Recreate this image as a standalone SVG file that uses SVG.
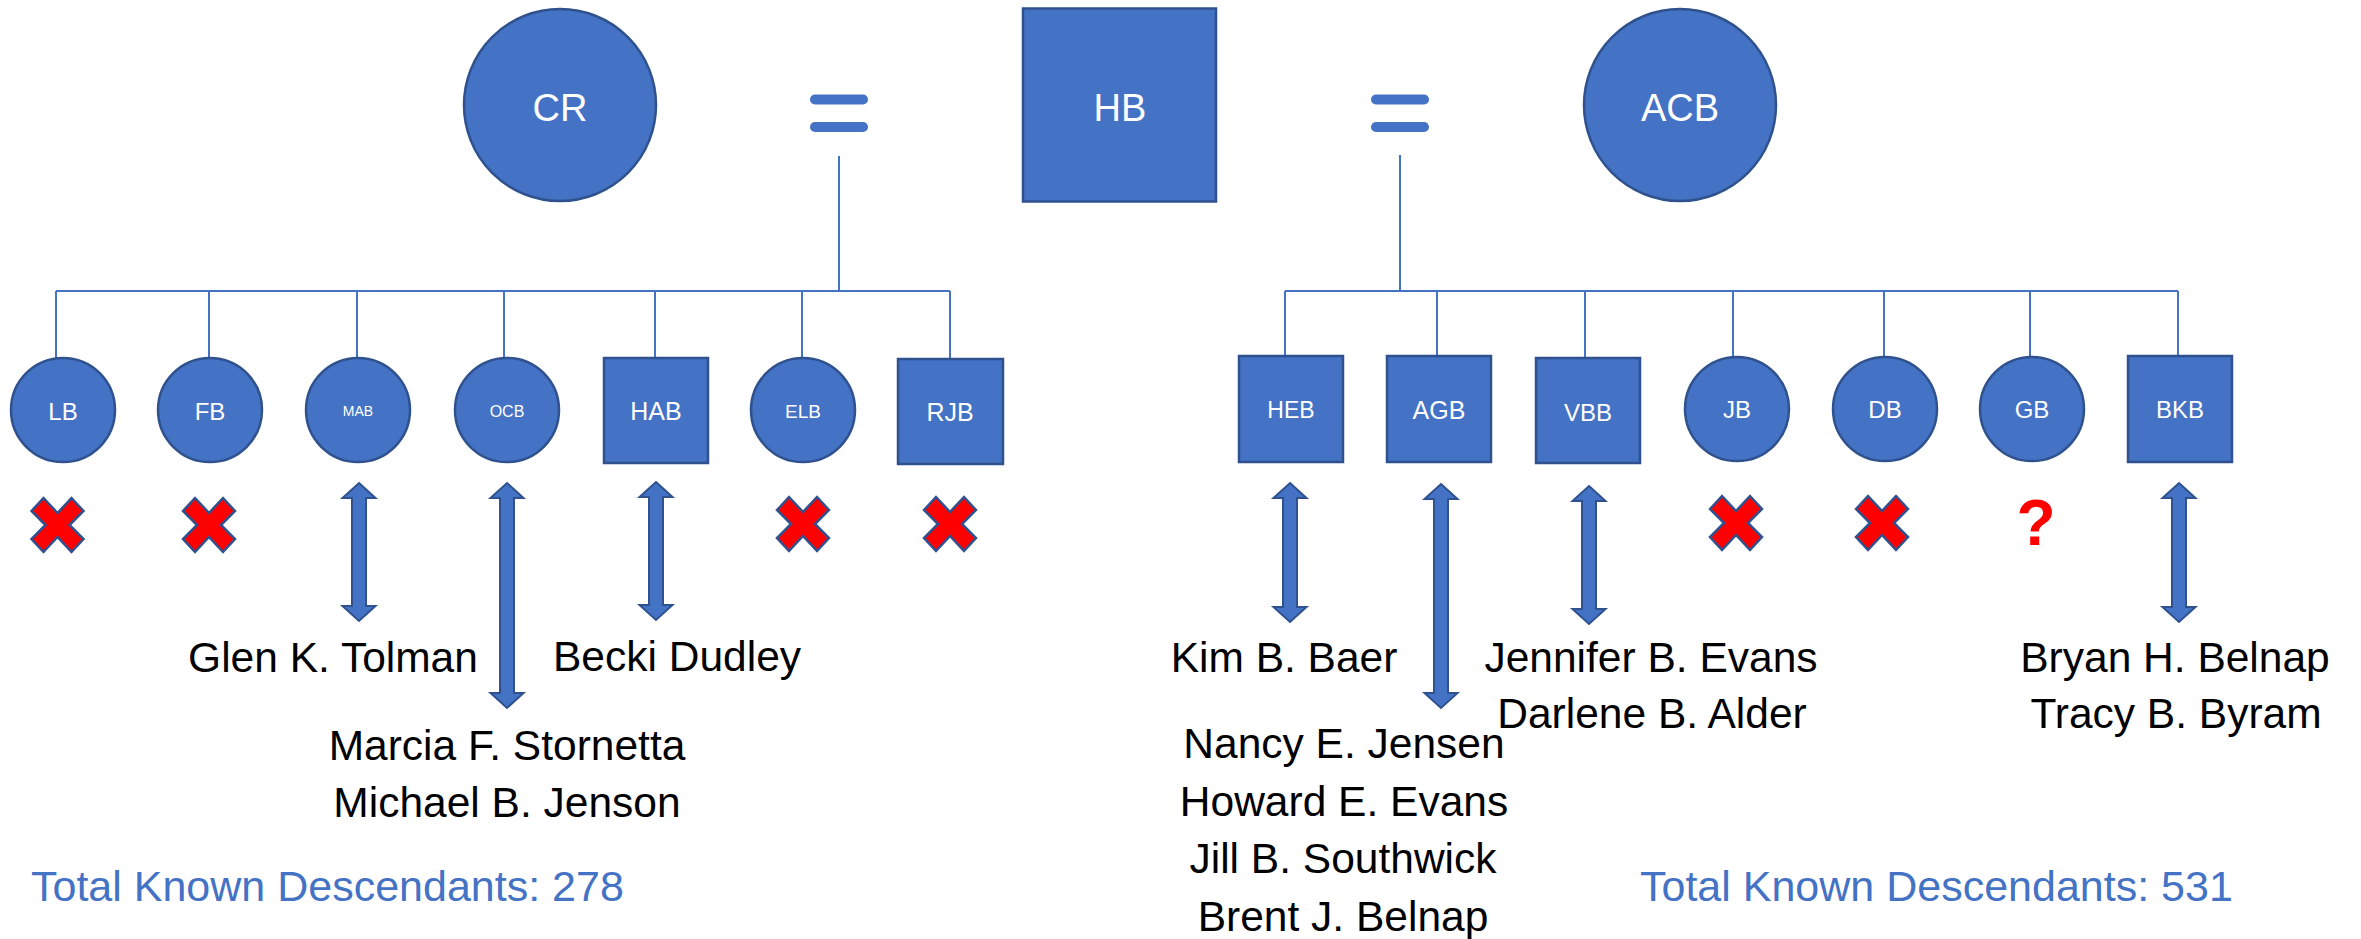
<svg xmlns="http://www.w3.org/2000/svg" width="2361" height="939" viewBox="0 0 2361 939">
<style>
.nd{fill:#4472C4;stroke:#2F528F;stroke-width:2.5}
.lt{fill:#fff;font-family:"Liberation Sans",Arial,sans-serif;text-anchor:middle}
.ln{fill:none;stroke:#4472C4;stroke-width:2}
.eq{fill:#4472C4}
.ar{fill:#4472C4;stroke:#2F528F;stroke-width:2}
.x{fill:#FF0000;stroke:#2F528F;stroke-width:2.5;stroke-linejoin:miter}
.nm{fill:#000;font-family:"Liberation Sans",Arial,sans-serif;font-size:42.5px;text-anchor:middle}
.tot{fill:#4472C4;font-family:"Liberation Sans",Arial,sans-serif;font-size:43px}
.q{fill:#FF0000;font-family:"Liberation Sans",Arial,sans-serif;font-weight:bold;font-size:64px;text-anchor:middle}
</style>
<defs>
<polygon id="xm" points="-26,-14 -14,-27 0,-12 14,-27 26,-14 12,0 26,14 14,27 0,12 -14,27 -26,14 -12,0"/>
</defs>
<rect width="2361" height="939" fill="#fff"/>
<g id="connectors">
<path class="ln" d="M839,156 V291 M56,291 H950 M56,291 V358 M209,291 V358 M357,291 V358 M504,291 V358 M655,291 V358 M802,291 V358 M950,291 V359"/>
<path class="ln" d="M1400,155 V291 M1285,291 H2178 M1285,291 V356 M1437,291 V356 M1585,291 V358 M1733,291 V357 M1884,291 V357 M2030,291 V357 M2178,291 V356"/>
</g>
<g id="eq-left"><rect class="eq" x="810" y="94.5" width="58" height="10" rx="5"/><rect class="eq" x="810" y="122" width="58" height="10" rx="5"/></g>
<g id="eq-right"><rect class="eq" x="1371" y="94.5" width="58" height="10" rx="5"/><rect class="eq" x="1371" y="122" width="58" height="10" rx="5"/></g>
<g id="CR"><circle class="nd" cx="560" cy="105" r="96"/><text class="lt" x="560" y="121" font-size="38">CR</text></g>
<g id="HB"><rect class="nd" x="1023" y="8.5" width="193" height="193"/><text class="lt" x="1120" y="121" font-size="38">HB</text></g>
<g id="ACB"><circle class="nd" cx="1680" cy="105" r="96"/><text class="lt" x="1680" y="121" font-size="38">ACB</text></g>
<g id="LB"><circle class="nd" cx="63" cy="410" r="52"/><text class="lt" x="63" y="420" font-size="24">LB</text></g>
<g id="FB"><circle class="nd" cx="210" cy="410" r="52"/><text class="lt" x="210" y="420" font-size="24">FB</text></g>
<g id="MAB"><circle class="nd" cx="358" cy="410" r="52"/><text class="lt" x="358" y="416" font-size="14">MAB</text></g>
<g id="OCB"><circle class="nd" cx="507" cy="410" r="52"/><text class="lt" x="507" y="417" font-size="16">OCB</text></g>
<g id="HAB"><rect class="nd" x="604" y="358" width="104" height="105"/><text class="lt" x="656" y="420" font-size="25">HAB</text></g>
<g id="ELB"><circle class="nd" cx="803" cy="410" r="52"/><text class="lt" x="803" y="418" font-size="19">ELB</text></g>
<g id="RJB"><rect class="nd" x="898" y="359" width="105" height="105"/><text class="lt" x="950" y="421" font-size="25">RJB</text></g>
<g id="HEB"><rect class="nd" x="1239" y="356" width="104" height="106"/><text class="lt" x="1291" y="418" font-size="23">HEB</text></g>
<g id="AGB"><rect class="nd" x="1387" y="356" width="104" height="106"/><text class="lt" x="1439" y="419" font-size="25">AGB</text></g>
<g id="VBB"><rect class="nd" x="1536" y="358" width="104" height="105"/><text class="lt" x="1588" y="421" font-size="24">VBB</text></g>
<g id="JB"><circle class="nd" cx="1737" cy="409" r="52"/><text class="lt" x="1737" y="418" font-size="24">JB</text></g>
<g id="DB"><circle class="nd" cx="1885" cy="409" r="52"/><text class="lt" x="1885" y="418" font-size="24">DB</text></g>
<g id="GB"><circle class="nd" cx="2032" cy="409" r="52"/><text class="lt" x="2032" y="418" font-size="24">GB</text></g>
<g id="BKB"><rect class="nd" x="2128" y="356" width="104" height="106"/><text class="lt" x="2180" y="418" font-size="24">BKB</text></g>
<g id="marks">
<use href="#xm" class="x" x="57.5" y="525"/>
<use href="#xm" class="x" x="209" y="525"/>
<use href="#xm" class="x" x="803" y="524"/>
<use href="#xm" class="x" x="950" y="524"/>
<use href="#xm" class="x" x="1736" y="523"/>
<use href="#xm" class="x" x="1882" y="523"/>
<text class="q" x="2036" y="545">?</text>
</g>
<g id="arrows">
<path class="ar" d="M359,483 L375.5,498 L366,498 L366,606 L375.5,606 L359,621 L342.5,606 L352,606 L352,498 L342.5,498 Z"/>
<path class="ar" d="M507,483 L523.5,498 L514,498 L514,693 L523.5,693 L507,708 L490.5,693 L500,693 L500,498 L490.5,498 Z"/>
<path class="ar" d="M656,482 L672.5,497 L663,497 L663,605 L672.5,605 L656,620 L639.5,605 L649,605 L649,497 L639.5,497 Z"/>
<path class="ar" d="M1290,483 L1306.5,498 L1297,498 L1297,607 L1306.5,607 L1290,622 L1273.5,607 L1283,607 L1283,498 L1273.5,498 Z"/>
<path class="ar" d="M1441,484 L1457.5,499 L1448,499 L1448,693 L1457.5,693 L1441,708 L1424.5,693 L1434,693 L1434,499 L1424.5,499 Z"/>
<path class="ar" d="M1589,486 L1605.5,501 L1596,501 L1596,609 L1605.5,609 L1589,624 L1572.5,609 L1582,609 L1582,501 L1572.5,501 Z"/>
<path class="ar" d="M2179,483 L2195.5,498 L2186,498 L2186,607 L2195.5,607 L2179,622 L2162.5,607 L2172,607 L2172,498 L2162.5,498 Z"/>
</g>
<g id="names">
<text class="nm" x="333" y="672">Glen K. Tolman</text>
<text class="nm" x="677" y="671">Becki Dudley</text>
<text class="nm" x="507" y="760">Marcia F. Stornetta</text>
<text class="nm" x="507" y="817">Michael B. Jenson</text>
<text class="nm" x="1284" y="672">Kim B. Baer</text>
<text class="nm" x="1344" y="758">Nancy E. Jensen</text>
<text class="nm" x="1344" y="816">Howard E. Evans</text>
<text class="nm" x="1343" y="873">Jill B. Southwick</text>
<text class="nm" x="1343" y="931">Brent J. Belnap</text>
<text class="nm" x="1651" y="672">Jennifer B. Evans</text>
<text class="nm" x="1652" y="728">Darlene B. Alder</text>
<text class="nm" x="2175" y="672">Bryan H. Belnap</text>
<text class="nm" x="2176" y="728">Tracy B. Byram</text>
</g>
<g id="totals">
<text class="tot" x="31" y="901">Total Known Descendants: 278</text>
<text class="tot" x="1640" y="901">Total Known Descendants: 531</text>
</g>
</svg>
